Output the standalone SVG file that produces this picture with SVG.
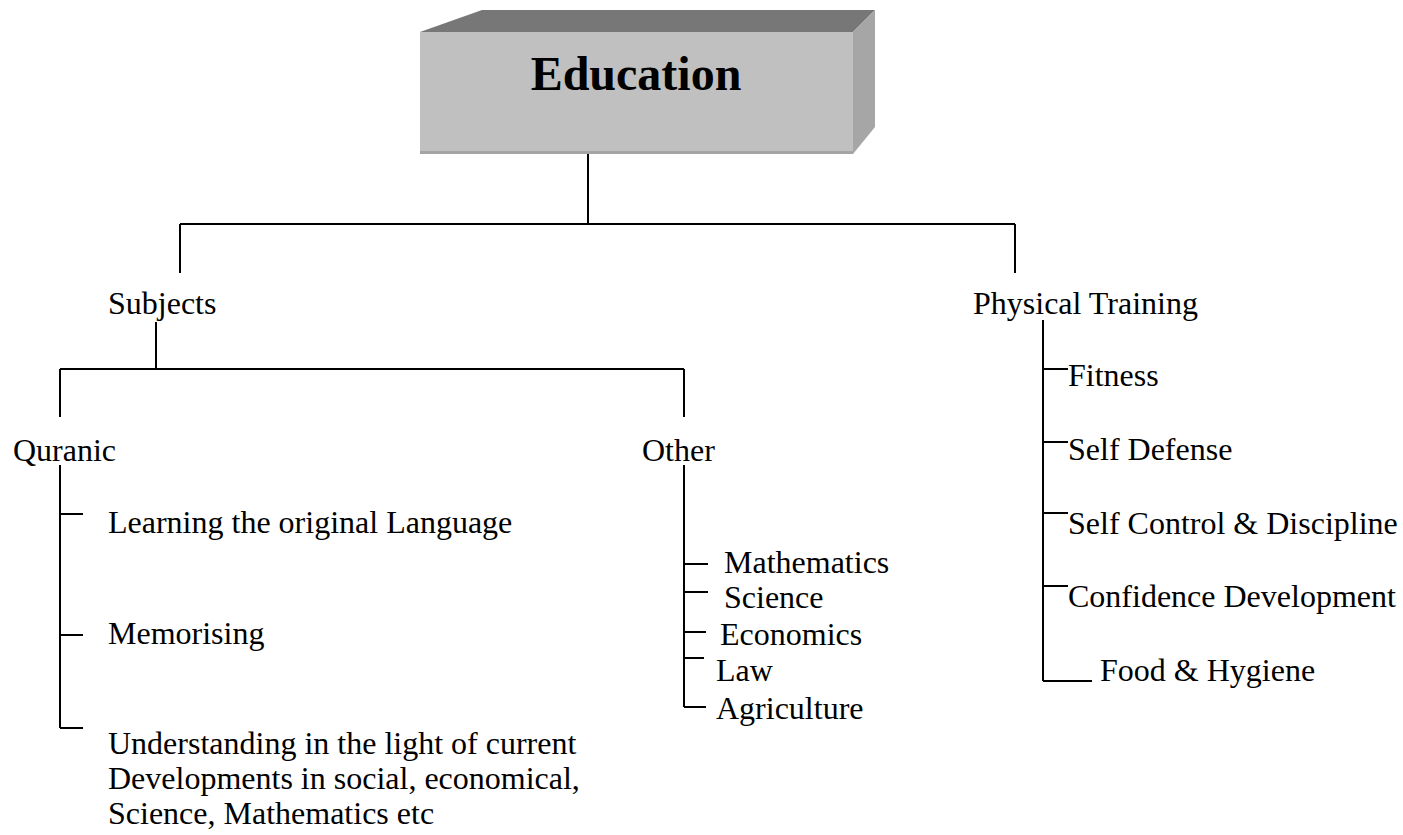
<svg xmlns="http://www.w3.org/2000/svg" width="1403" height="835" viewBox="0 0 1403 835">
<style>
text{font-family:"Liberation Serif","Times New Roman",serif;font-size:32px;fill:#000}
.title{font-size:48px;font-weight:bold}
.c{stroke:#000;stroke-width:2;fill:none}
</style>
<rect width="1403" height="835" fill="#fff"/>
<g id="education">
<polygon points="420,32 482,10 875,10 853,32" fill="#777777"/>
<polygon points="853,32 875,10 875,127 853,154" fill="#A6A6A6"/>
<rect x="420" y="32" width="433" height="122" fill="#C0C0C0"/>
<rect x="420" y="151" width="433" height="3" fill="#A4A4A4"/>
<text class="title" x="636" y="90" text-anchor="middle">Education</text>
</g>
<g id="connectors" class="c">
<path d="M588,154 V224 M180,224 H1015 M180,224 V273 M1015,224 V273"/>
<path d="M156,322 V369 M60,369 H684 M60,369 V417 M684,369 V417"/>
<path d="M60,465 V728 M60,514 H83 M60,635 H83 M60,728 H83"/>
<path d="M684,465 V707 M684,564 H708 M684,592 H708 M684,632 H706 M684,658 H704 M684,707 H706"/>
<path d="M1043,320 V681 M1043,369 H1068 M1043,442 H1068 M1043,513 H1068 M1043,586 H1068 M1043,681 H1092"/>
</g>
<g id="subjects"><text x="108" y="314">Subjects</text></g>
<g id="physical"><text x="973" y="314">Physical Training</text></g>
<g id="quranic"><text x="13" y="461">Quranic</text></g>
<g id="other"><text x="642" y="461">Other</text></g>
<g id="q-learning"><text x="108" y="533">Learning the original Language</text></g>
<g id="q-memorising"><text x="108" y="644">Memorising</text></g>
<g id="q-understanding"><text x="108" y="754">Understanding in the light of current</text><text x="108" y="789">Developments in social, economical,</text><text x="108" y="824">Science, Mathematics etc</text></g>
<g id="o-math"><text x="724" y="573">Mathematics</text></g>
<g id="o-science"><text x="724" y="608">Science</text></g>
<g id="o-economics"><text x="720" y="645">Economics</text></g>
<g id="o-law"><text x="716" y="681">Law</text></g>
<g id="o-agriculture"><text x="716" y="719">Agriculture</text></g>
<g id="p-fitness"><text x="1068" y="386">Fitness</text></g>
<g id="p-selfdefense"><text x="1068" y="460">Self Defense</text></g>
<g id="p-selfcontrol"><text x="1068" y="534">Self Control &amp; Discipline</text></g>
<g id="p-confidence"><text x="1068" y="607">Confidence Development</text></g>
<g id="p-food"><text x="1100" y="681">Food &amp; Hygiene</text></g>
</svg>
